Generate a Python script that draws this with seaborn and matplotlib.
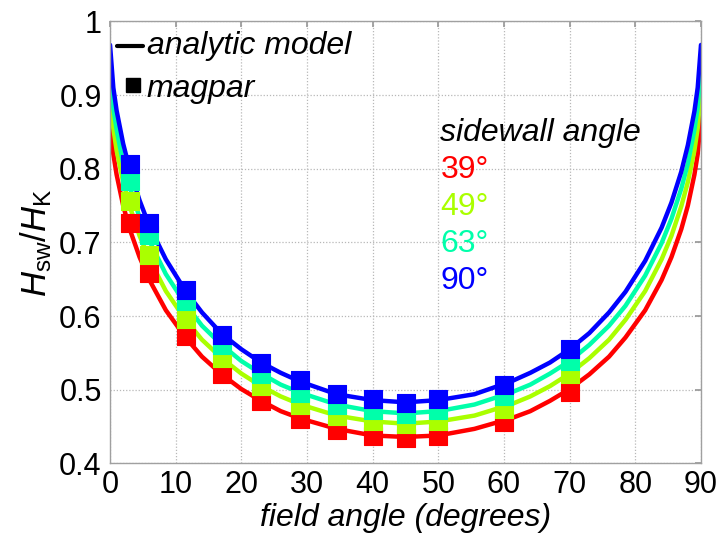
import matplotlib
matplotlib.use("Agg")
import matplotlib.pyplot as plt
import seaborn as sns
import pandas as pd

# Analytic model curves: switching field vs field angle for each sidewall angle
model_angle = [0, 0.5, 1, 2, 3, 4.5, 6, 8.5, 11.5, 14, 17, 20, 23, 26, 29, 34.5, 40, 45,
               50, 55.5, 61, 64, 67, 70, 73, 76, 78.5, 81.5, 84, 85.5, 87, 88, 89, 89.5, 90]
model_39 = [0.873, 0.820, 0.792, 0.750, 0.718, 0.680, 0.649, 0.608, 0.571, 0.545, 0.521, 0.501,
            0.485, 0.471, 0.461, 0.447, 0.438, 0.436,
            0.438, 0.447, 0.461, 0.471, 0.485, 0.501, 0.521, 0.545, 0.571, 0.608, 0.649,
            0.680, 0.718, 0.750, 0.792, 0.820, 0.873]
model_49 = [0.910, 0.855, 0.825, 0.782, 0.749, 0.709, 0.677, 0.634, 0.595, 0.568, 0.543, 0.522,
            0.505, 0.491, 0.480, 0.465, 0.457, 0.454,
            0.457, 0.465, 0.480, 0.491, 0.505, 0.522, 0.543, 0.568, 0.595, 0.634, 0.677,
            0.709, 0.749, 0.782, 0.825, 0.855, 0.910]
model_63 = [0.940, 0.883, 0.853, 0.807, 0.775, 0.734, 0.702, 0.657, 0.616, 0.587, 0.561, 0.539,
            0.522, 0.507, 0.496, 0.480, 0.471, 0.468,
            0.471, 0.480, 0.496, 0.507, 0.522, 0.539, 0.561, 0.587, 0.614, 0.655, 0.699,
            0.732, 0.773, 0.807, 0.853, 0.883, 0.940]
model_90 = [0.968, 0.910, 0.879, 0.834, 0.799, 0.757, 0.722, 0.677, 0.634, 0.605, 0.576, 0.555,
            0.537, 0.523, 0.511, 0.494, 0.486, 0.483,
            0.486, 0.494, 0.511, 0.523, 0.537, 0.555, 0.577, 0.605, 0.633, 0.675, 0.720,
            0.754, 0.796, 0.832, 0.878, 0.910, 0.968]

# magpar micromagnetic simulation results
sim_angle = [3, 6, 11.5, 17, 23, 29, 34.5, 40, 45, 50, 60, 70]
sim_39 = [0.727, 0.658, 0.573, 0.521, 0.485, 0.461, 0.445, 0.437, 0.435, 0.437, 0.456, 0.497]
sim_49 = [0.756, 0.683, 0.596, 0.543, 0.505, 0.480, 0.465, 0.457, 0.453, 0.457, 0.474, 0.521]
sim_63 = [0.783, 0.710, 0.620, 0.561, 0.522, 0.496, 0.479, 0.472, 0.467, 0.472, 0.492, 0.539]
sim_90 = [0.806, 0.726, 0.636, 0.574, 0.537, 0.513, 0.494, 0.487, 0.482, 0.487, 0.507, 0.555]

sidewall_labels = ["39°", "49°", "63°", "90°"]
colors = ["#ff0000", "#aaff00", "#00ffaa", "#0000ff"]

x_ticks = [0, 10, 20, 30, 40, 50, 60, 70, 80, 90]
y_ticks = [0.4, 0.5, 0.6, 0.7, 0.8, 0.9, 1.0]
y_ticklabels = ["0.4", "0.5", "0.6", "0.7", "0.8", "0.9", "1"]

sns.set_theme(style="white")
plt.rcParams["font.family"] = ["Liberation Sans", "DejaVu Sans"]
plt.rcParams["mathtext.fontset"] = "custom"
plt.rcParams["mathtext.it"] = "Liberation Sans:italic"
plt.rcParams["mathtext.rm"] = "Liberation Sans"
for key in ["text.color", "axes.labelcolor", "xtick.labelcolor", "ytick.labelcolor"]:
    plt.rcParams[key] = "black"

fig = plt.figure(figsize=(7.22, 5.33), dpi=100)
ax = fig.add_axes([0.1524, 0.1304, 0.8185, 0.8296])

models = [model_39, model_49, model_63, model_90]
sims = [sim_39, sim_49, sim_63, sim_90]
for col, m in zip(colors, models):
    df = pd.DataFrame({"angle": model_angle, "h": m})
    sns.lineplot(data=df, x="angle", y="h", color=col, linewidth=3.2, ax=ax,
                 sort=False, zorder=2)
for col, s in zip(colors, sims):
    df = pd.DataFrame({"angle": sim_angle, "h": s})
    sns.scatterplot(data=df, x="angle", y="h", color=col, marker="s", s=150,
                    edgecolor=col, linewidth=0.8, ax=ax, zorder=3)

ax.set_xlim(0, 90)
ax.set_ylim(0.4, 1.0)
ax.set_xticks(x_ticks)
ax.set_yticks(y_ticks)
ax.set_yticklabels(y_ticklabels)
ax.tick_params(axis="both", labelsize=22, direction="in", length=4, color="#999999",
               top=True, right=True, labelcolor="black")
ax.tick_params(axis="x", pad=5)
ax.tick_params(axis="y", pad=6)
ax.grid(True, linestyle=(0, (1, 1.5)), color="#b8b8b8", linewidth=0.9)
for sp in ax.spines.values():
    sp.set_color("#a0a0a0")
    sp.set_linewidth(1.0)

ax.set_xlabel("field angle (degrees)", fontsize=23, style="italic", labelpad=2)
ax.set_ylabel(r"$\mathit{H}_{\mathrm{sw}}/\mathit{H}_{\mathrm{K}}$", fontsize=25, labelpad=4)

# Legend: line for the analytic model, square for magpar
ax.plot([0.012, 0.056], [0.944, 0.944], color="black", linewidth=3,
        transform=ax.transAxes, clip_on=False, zorder=5)
ax.plot([0.039], [0.856], color="black", marker="s", markersize=10, linestyle="",
        transform=ax.transAxes, clip_on=False, zorder=5)
ax.text(0.062, 0.944, "analytic model", transform=ax.transAxes, fontsize=23,
        style="italic", va="center", ha="left")
ax.text(0.062, 0.848, "magpar", transform=ax.transAxes, fontsize=23,
        style="italic", va="center", ha="left")

ax.text(0.559, 0.748, "sidewall angle", transform=ax.transAxes, fontsize=23,
        style="italic", va="center", ha="left")
for i, (lab, col) in enumerate(zip(sidewall_labels, colors)):
    ax.text(0.559, 0.664 - i * 0.0837, lab, transform=ax.transAxes, fontsize=23,
            color=col, va="center", ha="left")

fig.savefig("out.png", dpi=100)
